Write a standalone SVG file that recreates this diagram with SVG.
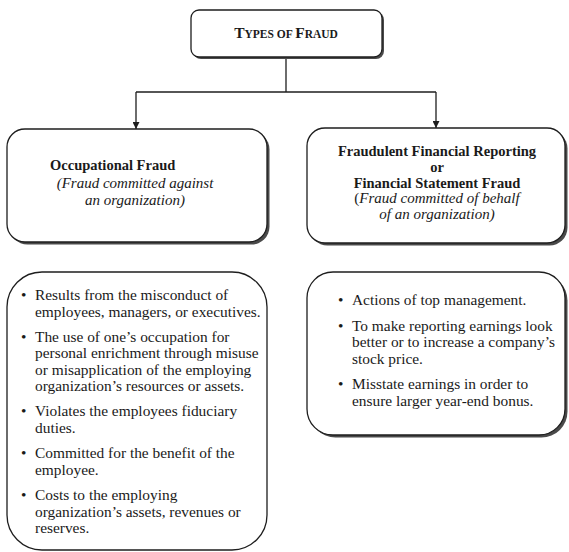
<svg xmlns="http://www.w3.org/2000/svg" width="569" height="552" viewBox="0 0 569 552">
<defs>
<style>
.box{fill:#fff;stroke:#1e1e1e;stroke-width:1.3}
.sh{fill:#4a4a4a}
.t{font-family:"Liberation Serif","Times New Roman",serif;fill:#1a1a1a;font-size:15px}
.d{font-size:15.4px}
.b{font-weight:bold;font-size:14.5px}
.i{font-style:italic}
.c{text-anchor:middle}
.conn{stroke:#1e1e1e;stroke-width:1.3;fill:none}
</style>
<marker id="ah" viewBox="0 0 10 10" refX="10" refY="5" markerWidth="7" markerHeight="7" markerUnits="userSpaceOnUse" orient="auto">
<path d="M0,0 L10,5 L0,10 z" fill="#1e1e1e"/>
</marker>
</defs>
<rect width="569" height="552" fill="#fff"/>

<g id="connectors">
<line class="conn" x1="286" y1="58" x2="286" y2="92"/>
<line class="conn" x1="136" y1="92" x2="436" y2="92"/>
<line class="conn" x1="136" y1="92" x2="136" y2="129" marker-end="url(#ah)"/>
<line class="conn" x1="436" y1="92" x2="436" y2="128" marker-end="url(#ah)"/>
</g>

<g id="types-of-fraud">
<rect class="sh" x="193" y="12" width="191" height="47" rx="8"/>
<rect class="box" x="191" y="10" width="191" height="47" rx="8"/>
<text class="t c" x="286" y="38" font-weight="bold"><tspan font-size="15.5">T</tspan><tspan font-size="11.5">YPES OF </tspan><tspan font-size="15.5">F</tspan><tspan font-size="11.5">RAUD</tspan></text>
</g>

<g id="occupational-fraud">
<rect class="sh" x="9.5" y="131.5" width="260" height="113" rx="18"/>
<rect class="box" x="7" y="129" width="260" height="113" rx="18"/>
<text class="t b" x="50" y="170">Occupational Fraud</text>
<text class="t i c" x="135" y="187.5">(Fraud committed against</text>
<text class="t i c" x="135" y="205">an organization)</text>
</g>

<g id="financial-statement-fraud">
<rect class="sh" x="309.5" y="130.5" width="258" height="115" rx="18"/>
<rect class="box" x="307" y="128" width="258" height="115" rx="18"/>
<text class="t b c" x="437" y="156">Fraudulent Financial Reporting</text>
<text class="t b c" x="437" y="172">or</text>
<text class="t b c" x="437" y="187.5">Financial Statement Fraud</text>
<text class="t c" x="437" y="203">(<tspan class="i">Fraud committed of behalf</tspan></text>
<text class="t i c" x="437" y="218.5">of an organization)</text>
</g>

<g id="occupational-details">
<rect class="box" x="7" y="272" width="260" height="278" rx="35"/>
<g class="t d">
<text x="21" y="300">•</text>
<text x="35" y="300">Results from the misconduct of</text>
<text x="35" y="316.5">employees, managers, or executives.</text>
<text x="21" y="341.5">•</text>
<text x="35" y="341.5">The use of one’s occupation for</text>
<text x="35" y="358">personal enrichment through misuse</text>
<text x="35" y="374.5">or misapplication of the employing</text>
<text x="35" y="391">organization’s resources or assets.</text>
<text x="21" y="416">•</text>
<text x="35" y="416">Violates the employees fiduciary</text>
<text x="35" y="432.5">duties.</text>
<text x="21" y="458">•</text>
<text x="35" y="458">Committed for the benefit of the</text>
<text x="35" y="474.5">employee.</text>
<text x="21" y="500">•</text>
<text x="35" y="500">Costs to the employing</text>
<text x="35" y="516.5">organization’s assets, revenues or</text>
<text x="35" y="533">reserves.</text>
</g>
</g>

<g id="financial-details">
<rect class="sh" x="309.5" y="274.5" width="258" height="163" rx="26"/>
<rect class="box" x="307" y="272" width="258" height="163" rx="26"/>
<g class="t d">
<text x="338" y="305">•</text>
<text x="352" y="305">Actions of top management.</text>
<text x="338" y="330.5">•</text>
<text x="352" y="330.5">To make reporting earnings look</text>
<text x="352" y="347">better or to increase a company’s</text>
<text x="352" y="363.5">stock price.</text>
<text x="338" y="389">•</text>
<text x="352" y="389">Misstate earnings in order to</text>
<text x="352" y="405.5">ensure larger year-end bonus.</text>
</g>
</g>
</svg>
